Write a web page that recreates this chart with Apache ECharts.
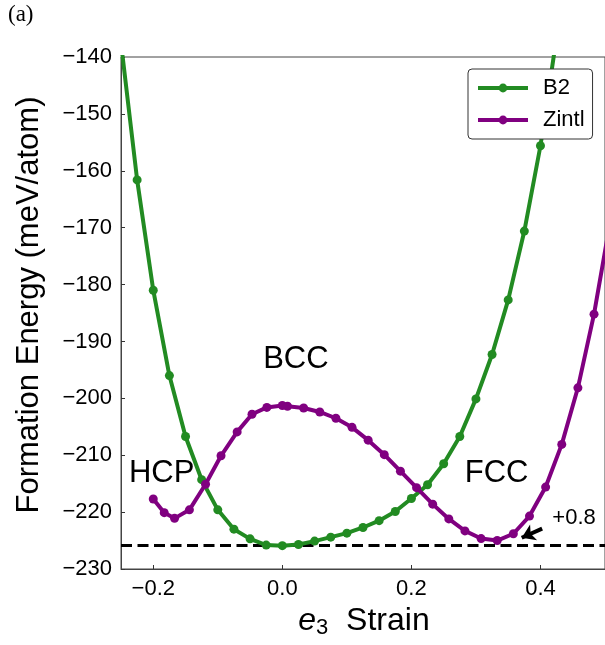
<!DOCTYPE html>
<html>
<head>
<meta charset="utf-8">
<script src="https://cdn.jsdelivr.net/npm/echarts@6/dist/echarts.min.js"></script>
<style>
html,body{margin:0;padding:0;background:#fff;}
#chart{width:605px;height:645px;}
</style>
</head>
<body>
<div id="chart"></div>
<script>
// ---- data ----
const seriesNames = ['B2', 'Zintl'];
const b2Strain = [-0.25, -0.225, -0.2, -0.175, -0.15, -0.125, -0.1, -0.075, -0.05, -0.025, 0.0, 0.025, 0.05, 0.075, 0.1, 0.125, 0.15, 0.175, 0.2, 0.225, 0.25, 0.275, 0.3, 0.325, 0.35, 0.375, 0.4, 0.425];
const b2Energy = [-137.5, -161.6, -181.0, -196.0, -206.7, -214.3, -219.6, -223.0, -224.7, -225.8, -225.9, -225.7, -225.1, -224.4, -223.7, -222.7, -221.5, -219.9, -217.6, -215.2, -211.5, -206.7, -200.1, -192.3, -182.7, -170.6, -155.6, -136.5];
const zintlStrain = [-0.2, -0.183, -0.167, -0.144, -0.119, -0.095, -0.070, -0.047, -0.024, 0.0, 0.008, 0.033, 0.058, 0.083, 0.108, 0.133, 0.158, 0.183, 0.208, 0.233, 0.258, 0.283, 0.308, 0.333, 0.358, 0.383, 0.408, 0.433, 0.458, 0.483, 0.508];
const zintlEnergy = [-217.7, -220.1, -221.1, -219.6, -215.1, -210.1, -205.9, -202.8, -201.6, -201.25, -201.4, -201.7, -202.4, -203.5, -205.1, -207.35, -209.9, -212.8, -215.7, -218.6, -221.2, -223.3, -224.65, -225.0, -223.8, -220.7, -215.6, -208.1, -198.15, -185.2, -169.0];
const referenceEnergy = -225.85;
const xTickValues = [-0.2, 0.0, 0.2, 0.4];
const yTickValues = [-230, -220, -210, -200, -190, -180, -170, -160, -150, -140];
const annotationText = ['BCC', 'HCP', 'FCC', '+0.8'];
const annotationX = [0.021, -0.187, 0.332, 0.452];
const annotationY = [-193.1, -213.2, -213.2, -221.0];
const annotationSize = [31, 31, 31, 22];
const arrowFrom = [0.4026, -222.9];
const arrowTo = [0.371, -224.5];

// ---- chart ----
const FONT = '"Liberation Sans", Arial, Helvetica, sans-serif';
const minus = s => String(s).replace('-', '\u2212');
const zip = (xs, ys) => xs.map((x, i) => [x, ys[i]]);

const chart = echarts.init(document.getElementById('chart'), null, {renderer: 'canvas'});
chart.setOption({
  animation: false,
  backgroundColor: '#fff',
  textStyle: {fontFamily: FONT},
  graphic: [{
    type: 'text', left: 8, top: 3,
    style: {text: '(a)', font: '23px "Liberation Serif", "DejaVu Serif", serif', fill: '#000'}
  }],
  grid: {left: 121, top: 57, width: 493, height: 512, show: true, borderColor: '#444', borderWidth: 1, backgroundColor: 'transparent'},
  legend: {
    orient: 'vertical', left: 468, top: 69,
    padding: [8, 8, 8, 8], itemGap: 10, itemWidth: 50, itemHeight: 11,
    backgroundColor: '#fff', borderColor: '#333', borderWidth: 1, borderRadius: 4,
    lineStyle: {width: 4},
    textStyle: {fontSize: 22, fontFamily: FONT, color: '#000', padding: [0, 0, 0, 10]},
    data: seriesNames
  },
  xAxis: {
    type: 'value', min: -0.25, max: 0.5,
    name: '{e|e}{s|3}{t|  Strain}', nameLocation: 'middle', nameGap: 30,
    nameTextStyle: {
      padding: [0, 0, 0, 2],
      rich: {
        e: {fontSize: 32, fontFamily: FONT, fontStyle: 'italic', color: '#000', lineHeight: 36, verticalAlign: 'middle'},
        s: {fontSize: 22, fontFamily: FONT, color: '#000', lineHeight: 22, verticalAlign: 'bottom'},
        t: {fontSize: 32, fontFamily: FONT, color: '#000', lineHeight: 36, verticalAlign: 'middle'}
      }
    },
    axisLine: {show: true, onZero: false, lineStyle: {color: '#444', width: 1}},
    axisTick: {show: true, inside: true, length: 4, customValues: xTickValues, lineStyle: {color: '#333', width: 1}},
    axisLabel: {customValues: xTickValues, fontSize: 22, color: '#000', margin: 9, fontFamily: FONT,
      formatter: v => minus(Number(v).toFixed(1))},
    splitLine: {show: false}
  },
  yAxis: {
    type: 'value', min: -230, max: -140, interval: 10,
    name: 'Formation Energy (meV/atom)', nameLocation: 'middle', nameGap: 76,
    nameTextStyle: {fontSize: 31, color: '#000', fontFamily: FONT, padding: [0, 0, 0, 16]},
    axisLine: {show: true, onZero: false, lineStyle: {color: '#444', width: 1}},
    axisTick: {show: true, inside: true, length: 4, lineStyle: {color: '#333', width: 1}},
    axisLabel: {fontSize: 22, color: '#000', margin: 9, fontFamily: FONT, formatter: v => minus(v)},
    splitLine: {show: false}
  },
  series: [
    {
      name: seriesNames[0], type: 'line', data: zip(b2Strain, b2Energy),
      color: '#228B22', lineStyle: {width: 4}, symbol: 'circle', symbolSize: 9,
      showAllSymbol: true, clip: true, z: 3,
      markLine: {
        silent: true, symbol: 'none', label: {show: false}, z: 1,
        lineStyle: {color: '#000', width: 3, type: [11, 5.5]},
        data: [{yAxis: referenceEnergy}]
      }
    },
    {
      name: seriesNames[1], type: 'line', data: zip(zintlStrain, zintlEnergy),
      color: '#800080', lineStyle: {width: 4}, symbol: 'circle', symbolSize: 9,
      showAllSymbol: true, clip: true, z: 4
    },
    {
      name: 'annotations', type: 'scatter', silent: true, z: 6,
      symbolSize: 0, itemStyle: {opacity: 1, color: '#000'},
      data: annotationText.map((t, i) => ({
        name: t, value: [annotationX[i], annotationY[i]],
        label: {show: true, position: 'inside', formatter: t, fontSize: annotationSize[i], color: '#000',
          textBorderWidth: 0, opacity: 1, fontFamily: FONT}
      })),
      markLine: {
        silent: true, symbol: ['none', 'arrow'], symbolSize: 13, label: {show: false},
        lineStyle: {color: '#000', width: 4, type: 'solid', opacity: 1},
        data: [[{coord: arrowFrom}, {coord: arrowTo}]]
      }
    }
  ]
});
</script>
</body>
</html>
